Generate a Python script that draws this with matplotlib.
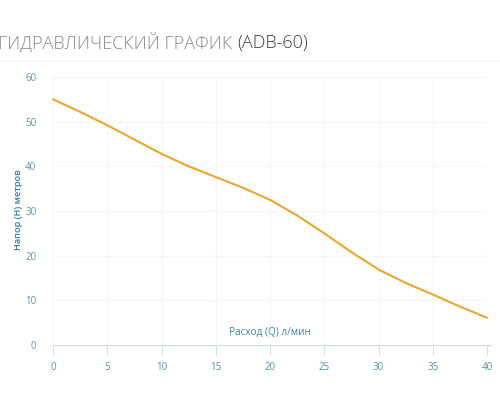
import matplotlib
matplotlib.use("Agg")
import matplotlib.pyplot as plt

flow = [0, 2.5, 5, 7.5, 10, 12.5, 15, 17.5, 20, 22.5, 25, 27.5, 30, 32.5, 35, 37.5, 40]
head = [55, 52.2, 49.2, 46.0, 42.8, 40.0, 37.6, 35.2, 32.5, 29.0, 25.0, 20.8, 16.9, 13.9, 11.3, 8.6, 6.1]
x_ticks = [0, 5, 10, 15, 20, 25, 30, 35, 40]
y_ticks = [0, 10, 20, 30, 40, 50, 60]

plt.rcParams['font.family'] = ['Open Sans', 'DejaVu Sans']

fig = plt.figure(figsize=(5, 4), dpi=100)
ax = fig.add_axes([0.106, 0.1375, 0.868, 0.67])

ax.plot(flow, head, color='#eea52f', linewidth=1.5, clip_on=False, zorder=3,
        solid_joinstyle='round', solid_capstyle='round')
ax.set_xlim(0, 40)
ax.set_ylim(0, 60)
ax.set_xticks(x_ticks)
ax.set_yticks(y_ticks)
ax.grid(True, color='#f3f5f7', linewidth=0.8)
for s in ['top', 'right', 'left']:
    ax.spines[s].set_visible(False)
ax.spines['bottom'].set_color('#d4dde3')
ax.spines['bottom'].set_bounds(0, 40.4)
ax.tick_params(axis='x', colors='#d4dde3', length=7, width=0.8, pad=5, labelcolor='#4f93ad', labelsize=7)
ax.tick_params(axis='y', length=0, pad=12, labelcolor='#5e96ab', labelsize=7)

ax.text(20, 1.6, 'Расход (Q) л/мин', ha='center', va='bottom', color='#3c88a6', fontsize=7.2)
fig.text(0.037, 0.475, 'Напор (Н) метров', rotation=90, ha='center', va='center',
         color='#2f7f9f', fontsize=6.6, fontweight='semibold')

t1 = fig.text(-0.003, 0.893, 'ГИДРАВЛИЧЕСКИЙ ГРАФИК ', ha='left', va='center',
              color='#8a8a8a', fontsize=13, fontweight='light')
fig.canvas.draw()
bb = t1.get_window_extent()
x1 = fig.transFigure.inverted().transform((bb.x1, bb.y0))[0]
fig.text(x1, 0.893, '(ADB-60)', ha='left', va='center', color='#3d3d3d', fontsize=13, fontweight='light')
fig.add_artist(plt.Line2D([0, 1], [0.85, 0.85], color='#f2f2f2', linewidth=0.8, transform=fig.transFigure))

fig.savefig('out.png', dpi=100, facecolor='white')
